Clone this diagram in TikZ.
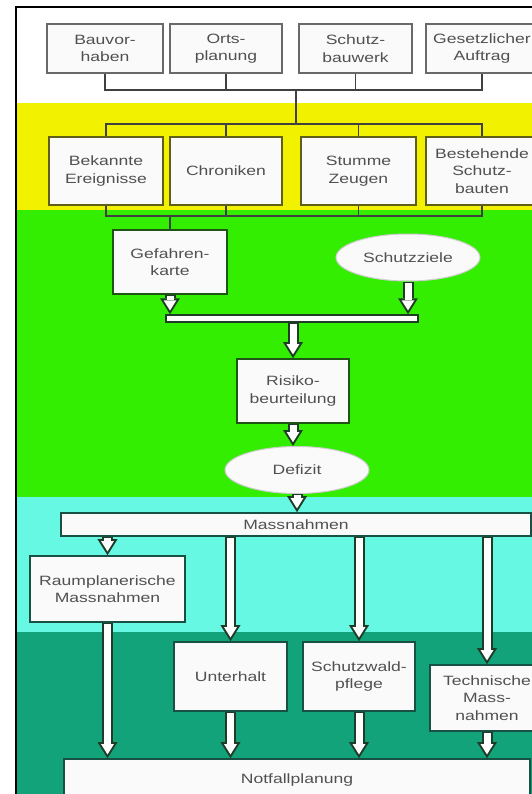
\documentclass[tikz,border=0pt]{standalone}
\usepackage{fontspec}
\setmainfont{Liberation Sans}
\newfontfamily\labfont[FakeStretch=1.3]{Liberation Sans}
\usetikzlibrary{arrows.meta,shapes.geometric}

\definecolor{cyel}{RGB}{242,242,0}
\definecolor{cgrn}{RGB}{51,238,0}
\definecolor{ccyan}{RGB}{102,248,226}
\definecolor{cteal}{RGB}{18,163,122}
\definecolor{txt}{RGB}{80,80,80}
\definecolor{bdw}{RGB}{105,105,105}
\definecolor{bdy}{RGB}{95,95,25}
\definecolor{bdg}{RGB}{30,85,20}
\definecolor{bdc}{RGB}{25,80,68}
\definecolor{boxfill}{RGB}{250,250,250}
\definecolor{hdark}{RGB}{30,60,40}

\tikzset{
  box/.style={draw, line width=1.6pt, fill=boxfill, inner sep=0pt, align=center,
    font={\labfont\fontsize{13.5pt}{17.5pt}\selectfont}, text=txt},
  ell/.style={ellipse, draw=gray!40, line width=1pt, fill=boxfill, inner sep=0pt,
    font={\labfont\fontsize{13.5pt}{17.5pt}\selectfont}, text=txt},
  conn/.style={line width=1.6pt, draw=black!75},
  hout/.style={line width=11pt, draw=hdark,
    -{Triangle[length=16pt,width=20pt,line width=0pt]}},
  hin/.style={line width=7pt, draw=white, shorten >=3.8pt, shorten <=1pt,
    -{Triangle[length=10.2pt,width=12.8pt,line width=0pt]}},
}

\begin{document}
\begin{tikzpicture}[x=1pt,y=-1pt]
\useasboundingbox (0,0) rectangle (532,794);
\clip (0,0) rectangle (532,794);
\fill[white] (0,0) rectangle (532,794);
% bands
\fill[cyel] (17,103) rectangle (532,210);
\fill[cgrn] (17,210) rectangle (532,497);
\fill[ccyan] (17,497) rectangle (532,632);
\fill[cteal] (17,632) rectangle (532,794);
% frame
\draw[line width=1.6pt, black] (16,794) -- (16,7) -- (532,7);

% top row
\node[box, draw=bdw, minimum width=116pt, minimum height=49pt] (bau) at (105,48.5) {Bauvor-\\haben};
\node[box, draw=bdw, minimum width=112pt, minimum height=49pt] (orts) at (226,48.5) {Orts-\\planung};
\node[box, draw=bdw, minimum width=113pt, minimum height=49pt] (schb) at (355.5,48.5) {Schutz-\\bauwerk};
\node[box, draw=bdw, minimum width=112pt, minimum height=49pt] (ges) at (482,48.5) {Gesetzlicher\\Auftrag};

% second row
\node[box, draw=bdy, minimum width=114pt, minimum height=68pt] (bek) at (106,171) {Bekannte\\Ereignisse};
\node[box, draw=bdy, minimum width=112pt, minimum height=68pt] (chron) at (226,171) {Chroniken};
\node[box, draw=bdy, minimum width=115pt, minimum height=68pt] (stum) at (358.5,171) {Stumme\\Zeugen};
\node[box, draw=bdy, minimum width=112pt, minimum height=68pt] (best) at (482,171) {Bestehende\\Schutz-\\bauten};

% junctions
\coordinate (j1) at (296,90);
\coordinate (j2) at (296,124);
\coordinate (j3) at (170,216);

\draw[conn] (bau.south) -- (bau.south |- j1) -- (ges.south |- j1) -- (ges.south);
\draw[conn] (orts.south) -- (orts.south |- j1);
\draw[conn] (schb.south) -- (schb.south |- j1);
\draw[conn] (j1) -- (j2);
\draw[conn] (bek.north) -- (bek.north |- j2) -- (best.north |- j2) -- (best.north);
\draw[conn] (chron.north) -- (chron.north |- j2);
\draw[conn] (stum.north) -- (stum.north |- j2);
\draw[conn] (bek.south) -- (bek.south |- j3) -- (best.south |- j3) -- (best.south);
\draw[conn] (chron.south) -- (chron.south |- j3);
\draw[conn] (stum.south) -- (stum.south |- j3);

% green section
\node[box, draw=bdg, minimum width=114pt, minimum height=64pt] (gef) at (170,262) {Gefahren-\\karte};
\draw[conn] (j3) -- (gef.north);
\node[ell, minimum width=144pt, minimum height=47pt] (sz) at (408,257.5) {Schutzziele};
\node[box, draw=bdg, minimum width=112pt, minimum height=64pt] (risk) at (293,391) {Risiko-\\beurteilung};
\node[ell, minimum width=144pt, minimum height=47pt] (def) at (297,470) {Defizit};

% cyan / teal section
\node[box, draw=bdc, minimum width=470pt, minimum height=23pt] (mass) at (296,524.5) {Massnahmen};
\node[box, draw=bdc, minimum width=155pt, minimum height=66pt] (raum) at (107.5,589) {Raumplanerische\\Massnahmen};
\node[box, draw=bdc, minimum width=113pt, minimum height=69pt] (unt) at (230.5,676.5) {Unterhalt};
\node[box, draw=bdc, minimum width=112pt, minimum height=69pt] (swp) at (359,676.5) {Schutzwald-\\pflege};
\node[box, draw=bdc, minimum width=114pt, minimum height=66pt] (tech) at (487,698) {Technische\\Mass-\\nahmen};
\node[box, draw=bdc, minimum width=466pt, minimum height=42pt] (notf) at (297,780) {Notfallplanung};

% hollow bar
\node[draw=hdark, line width=1.5pt, fill=white, minimum width=252pt, minimum height=7pt, inner sep=0pt] (bar) at (292,318.5) {};

% hollow arrows
\foreach \s/\t in {
  {gef.south}/{gef.south |- bar.north},
  {sz.south}/{sz.south |- bar.north},
  {risk.north |- bar.south}/{risk.north},
  {risk.south}/{risk.south |- def.north},
  {def.south}/{def.south |- mass.north},
  {raum.north |- mass.south}/{raum.north},
  {unt.north |- mass.south}/{unt.north},
  {swp.north |- mass.south}/{swp.north},
  {tech.north |- mass.south}/{tech.north},
  {raum.south}/{raum.south |- notf.north},
  {unt.south}/{unt.south |- notf.north},
  {swp.south}/{swp.south |- notf.north},
  {tech.south}/{tech.south |- notf.north}}{
  \draw[hout] (\s) -- (\t);
  \draw[hin] (\s) -- (\t);
}
\end{tikzpicture}
\end{document}
